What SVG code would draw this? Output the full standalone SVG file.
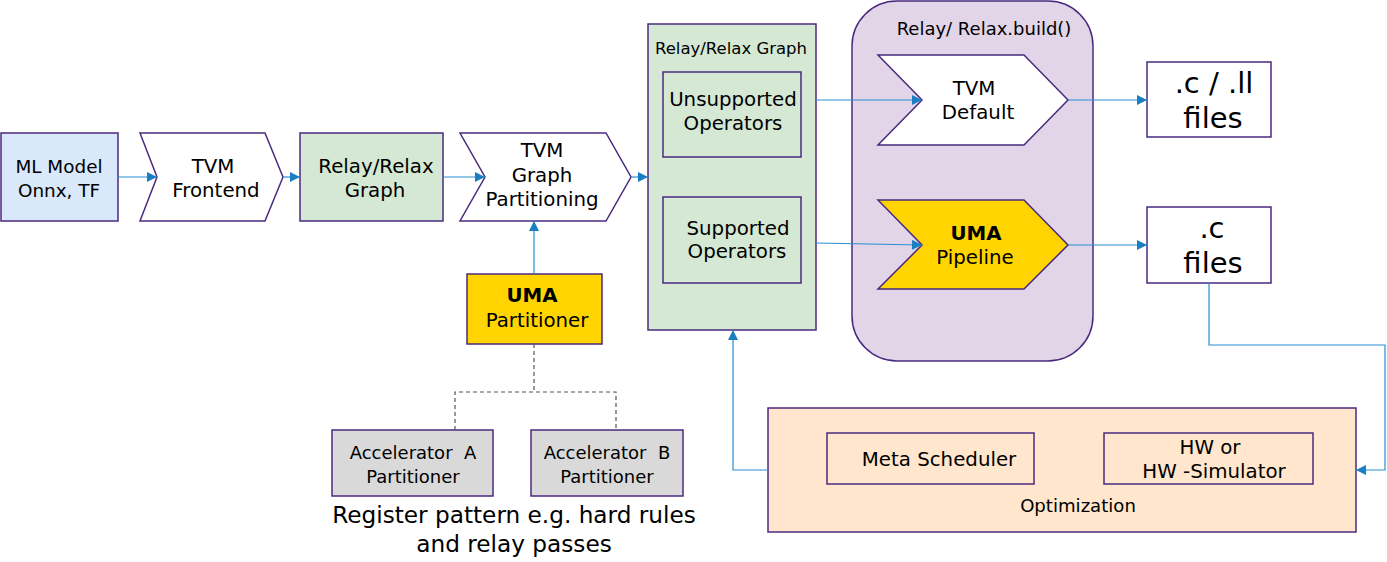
<svg xmlns="http://www.w3.org/2000/svg" width="1387" height="562" viewBox="0 0 1387 562">
<style>
text{font-family:"DejaVu Sans","Verdana",sans-serif;fill:#000;text-anchor:middle}
.s{stroke:#4a2a80;stroke-width:1.5}
.c{fill:none;stroke:#2a8fd0;stroke-width:1.2}
.d{fill:none;stroke:#555;stroke-width:1.2;stroke-dasharray:4 3}
.t19{font-size:19.8px}
.t18{font-size:18px}
.b{font-weight:bold}
</style>
<defs>
<marker id="ah" viewBox="0 0 10 10" refX="10" refY="5" markerWidth="10" markerHeight="10" markerUnits="userSpaceOnUse" orient="auto">
<path d="M0,0 L10,5 L0,10 z" fill="#1a7fc1"/>
</marker>
</defs>
<rect width="1387" height="562" fill="#fff"/>

<g id="build-group">
<rect class="s" x="852" y="1" width="241" height="360" rx="45" ry="45" fill="#e1d5e7"/>
<text x="984" y="35" class="t18">Relay/ Relax.build()</text>
</g>

<g id="ml-model">
<rect class="s" x="1" y="133" width="117" height="88" fill="#dae8fc"/>
<text x="59" y="173" style="font-size:18.4px">ML Model</text>
<text x="59" y="197" style="font-size:18.4px">Onnx, TF</text>
</g>

<g id="tvm-frontend">
<path class="s" d="M140,133 L265,133 L283,177 L265,221 L140,221 L157,177 Z" fill="#fff"/>
<text x="213" y="173" class="t19">TVM</text>
<text x="216" y="197" class="t19">Frontend</text>
</g>

<g id="relay-graph-1">
<rect class="s" x="300" y="133" width="143" height="88" fill="#d5e8d4"/>
<text x="376" y="173" class="t19">Relay/Relax</text>
<text x="375" y="197" class="t19">Graph</text>
</g>

<g id="tvm-partitioning">
<path class="s" d="M460,133 L606,133 L631,177 L606,221 L460,221 L485,177 Z" fill="#fff"/>
<text x="542" y="157" class="t19">TVM</text>
<text x="542" y="182" class="t19">Graph</text>
<text x="542" y="206" class="t19">Partitioning</text>
</g>

<g id="uma-partitioner">
<rect class="s" x="467" y="274" width="135" height="70" fill="#ffd400"/>
<text x="532" y="302" class="t19 b">UMA</text>
<text x="537" y="327" class="t19">Partitioner</text>
</g>

<g id="accel-a">
<rect class="s" x="332" y="430" width="161" height="66" fill="#d9d9d9"/>
<text x="413" y="459" class="t18" xml:space="preserve">Accelerator  A</text>
<text x="413" y="483" class="t18">Partitioner</text>
</g>

<g id="accel-b">
<rect class="s" x="531" y="430" width="152" height="66" fill="#d9d9d9"/>
<text x="607" y="459" class="t18" xml:space="preserve">Accelerator  B</text>
<text x="607" y="483" class="t18">Partitioner</text>
</g>

<g id="caption">
<text x="514" y="523" style="font-size:23.2px">Register pattern e.g. hard rules</text>
<text x="514" y="552" style="font-size:23.2px">and relay passes</text>
</g>

<g id="relay-graph-2">
<rect class="s" x="648" y="24" width="168" height="306" fill="#d5e8d4"/>
<text x="731" y="54" style="font-size:16.5px">Relay/Relax Graph</text>
</g>

<g id="unsupported">
<rect class="s" x="663" y="72" width="138" height="85" fill="#d5e8d4"/>
<text x="733" y="106" class="t19">Unsupported</text>
<text x="733" y="130" class="t19">Operators</text>
</g>

<g id="supported">
<rect class="s" x="663" y="197" width="138" height="86" fill="#d5e8d4"/>
<text x="738" y="235" class="t19">Supported</text>
<text x="737" y="258" class="t19">Operators</text>
</g>

<g id="tvm-default">
<path class="s" d="M878,55 L1024,55 L1068,100 L1024,145 L878,145 L922,100 Z" fill="#fff"/>
<text x="974" y="95" class="t19">TVM</text>
<text x="978" y="119" class="t19">Default</text>
</g>

<g id="uma-pipeline">
<path class="s" d="M878,200 L1024,200 L1068,245 L1024,289 L878,289 L922,245 Z" fill="#ffd400"/>
<text x="976" y="240" class="t19 b">UMA</text>
<text x="975" y="264" class="t19">Pipeline</text>
</g>

<g id="c-ll-files">
<rect class="s" x="1147" y="62" width="124" height="75" fill="#fff"/>
<text x="1214" y="93" style="font-size:29px">.c / .ll</text>
<text x="1213" y="128" style="font-size:29px">files</text>
</g>

<g id="c-files">
<rect class="s" x="1147" y="207" width="124" height="76" fill="#fff"/>
<text x="1212" y="238" style="font-size:29px">.c</text>
<text x="1213" y="273" style="font-size:29px">files</text>
</g>

<g id="optimization">
<rect class="s" x="768" y="408" width="588" height="124" fill="#ffe6cc"/>
<text x="1078" y="512" style="font-size:18.1px">Optimization</text>
</g>

<g id="meta-scheduler">
<rect class="s" x="827" y="433" width="207" height="51" fill="#ffe6cc"/>
<text x="939" y="466" class="t19">Meta Scheduler</text>
</g>

<g id="hw-simulator">
<rect class="s" x="1104" y="433" width="209" height="51" fill="#ffe6cc"/>
<text x="1210" y="454" class="t19">HW or</text>
<text x="1214" y="478" class="t19">HW -Simulator</text>
</g>

<g id="connectors">
<path class="c" d="M118,177 L157,177" marker-end="url(#ah)"/>
<path class="c" d="M283,177 L300,177" marker-end="url(#ah)"/>
<path class="c" d="M443,177 L485,177" marker-end="url(#ah)"/>
<path class="c" d="M631,177 L648,177" marker-end="url(#ah)"/>
<path class="c" d="M534,274 L534,221" marker-end="url(#ah)"/>
<path class="c" d="M816,100 L922,100" marker-end="url(#ah)"/>
<path class="c" d="M1068,100 L1147,100" marker-end="url(#ah)"/>
<path class="c" d="M816,243 L922,245" marker-end="url(#ah)"/>
<path class="c" d="M1068,245 L1147,245" marker-end="url(#ah)"/>
<path class="c" d="M1209,283 L1209,345 L1385,345 L1385,470 L1356,470" marker-end="url(#ah)"/>
<path class="c" d="M768,470 L733,470 L733,330" marker-end="url(#ah)"/>
<path class="d" d="M534,344 L534,392"/>
<path class="d" d="M455,430 L455,392 L616,392 L616,430"/>
</g>
</svg>
